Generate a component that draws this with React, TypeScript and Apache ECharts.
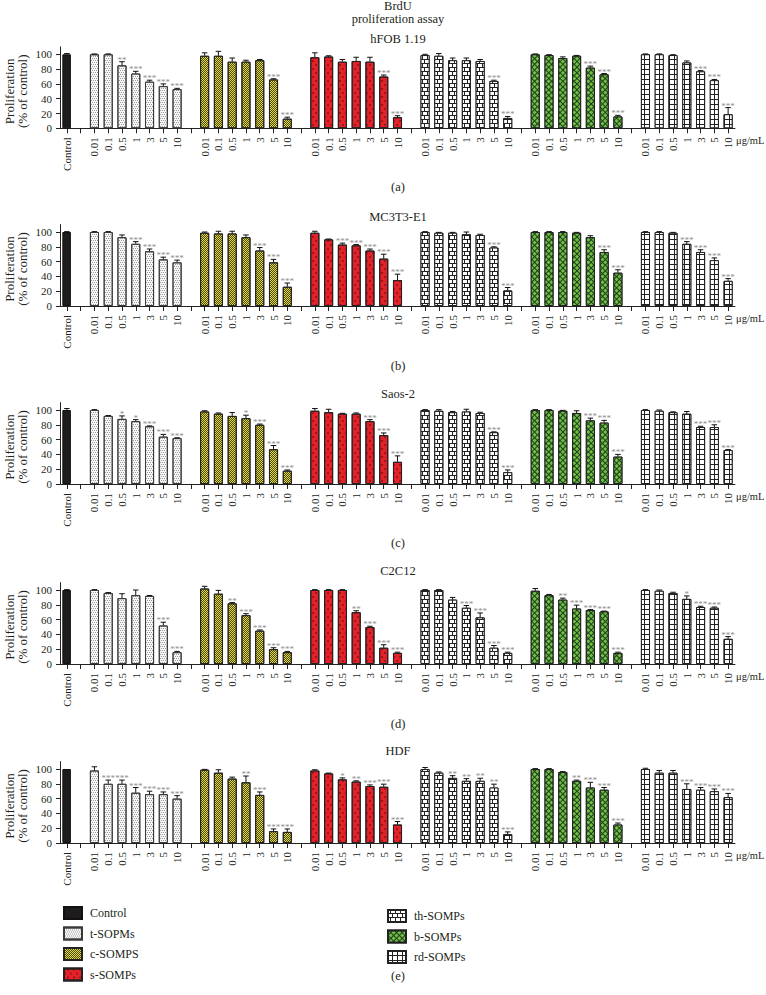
import React, { useEffect, useRef } from 'react';
import * as echarts from 'echarts';

// ---------- data ----------
const cellLines = ['hFOB 1.19', 'MC3T3-E1', 'Saos-2', 'C2C12', 'HDF'];
const panelTags = ['(a)', '(b)', '(c)', '(d)', '(e)'];
const groupNames = ['t-SOPMs', 'c-SOMPS', 's-SOMPs', 'th-SOMPs', 'b-SOMPs', 'rd-SOMPs'];
const doses = ['0.01', '0.1', '0.5', '1', '3', '5', '10'];
const yTicks = [0, 20, 40, 60, 80, 100];

const controlMean = [100, 100, 100, 100, 100];
const controlErr = [1, 0.5, 2, 0.5, 0];

// rows: t, c, s, th, b, rd ; columns: doses
const hfobMean = [
  [100, 100, 85, 74, 63, 57, 53],
  [98, 98, 90, 90, 92, 66, 13],
  [96, 97, 90, 91, 90, 70, 15],
  [99, 98, 92, 92, 91, 64, 14],
  [100, 99, 95, 98, 82, 73, 16],
  [100, 100, 99, 89, 77, 65, 19],
];
const hfobErr = [
  [0.5, 0.5, 5, 3, 2, 3, 1],
  [4, 6, 5, 2, 1, 1, 2],
  [6, 1, 3, 5, 6, 2, 2],
  [1, 3, 3, 3, 2, 1, 2],
  [0.5, 0.5, 1.5, 0.5, 2, 1, 1.5],
  [0.5, 0.5, 0.5, 2, 1, 1, 9],
];
const hfobSig = [
  ['', '', '**', '***', '***', '***', '***'],
  ['', '', '', '', '', '***', '***'],
  ['', '', '', '', '', '***', '***'],
  ['', '', '', '', '', '***', '***'],
  ['', '', '', '', '***', '***', '***'],
  ['', '', '', '', '***', '***', '***'],
];

const mc3t3Mean = [
  [100, 100, 93, 84, 74, 63, 59],
  [99, 98, 98, 93, 75, 59, 26],
  [99, 90, 83, 82, 75, 64, 35],
  [100, 99, 99, 97, 96, 79, 21],
  [100, 100, 100, 99, 93, 73, 45],
  [100, 100, 99, 84, 73, 62, 34],
];
const mc3t3Err = [
  [0.5, 0.5, 3, 3, 3, 3, 3],
  [1, 3, 3, 3, 4, 4, 5],
  [2, 0.5, 2, 1, 2, 6, 8],
  [0.5, 0.5, 0.5, 3, 1, 1, 4],
  [0.5, 0.5, 0.5, 0.5, 2, 3, 4],
  [0.5, 0.5, 0.5, 3, 3, 3, 3],
];
const mc3t3Sig = [
  ['', '', '', '***', '***', '***', '***'],
  ['', '', '', '', '***', '***', '***'],
  ['', '', '***', '***', '***', '***', '***'],
  ['', '', '', '', '', '***', '***'],
  ['', '', '', '', '', '***', '***'],
  ['', '', '', '***', '***', '***', '***'],
];

const saosMean = [
  [100, 92, 88, 85, 78, 64, 62],
  [98, 95, 92, 89, 80, 47, 18],
  [99, 97, 95, 95, 85, 66, 30],
  [100, 99, 97, 98, 96, 70, 16],
  [100, 100, 99, 96, 86, 83, 37],
  [100, 99, 97, 95, 77, 77, 46],
];
const saosErr = [
  [0.5, 0.5, 4, 2, 0.5, 3, 0.5],
  [1, 1, 4.5, 4, 1, 5, 1],
  [3, 4, 0.5, 1, 2, 3, 8],
  [0.5, 1.5, 1, 3, 1, 0.5, 3],
  [0.5, 0.5, 0.5, 3, 3, 3, 3],
  [0.5, 1, 0.5, 3, 1, 3, 0.5],
];
const saosSig = [
  ['', '', '*', '*', '***', '***', '***'],
  ['', '', '', '*', '***', '***', '***'],
  ['', '', '', '', '***', '***', '***'],
  ['', '', '', '', '', '***', '***'],
  ['', '', '', '', '***', '***', '***'],
  ['', '', '', '', '***', '***', '***'],
];

const c2c12Mean = [
  [100, 96, 89, 93, 92, 52, 16],
  [102, 95, 82, 66, 45, 20, 16],
  [100, 100, 100, 70, 50, 22, 15],
  [100, 100, 87, 76, 63, 22, 15],
  [99, 93, 87, 75, 73, 71, 15],
  [100, 99, 96, 88, 77, 76, 34],
];
const c2c12Err = [
  [0.5, 0.5, 6, 7, 0.5, 4.5, 1],
  [3, 4.5, 1, 2, 1, 2, 1],
  [0.5, 0.5, 0.5, 2, 1, 4, 1],
  [0.5, 0.5, 3, 3, 6, 3, 1],
  [3, 1, 2, 4.5, 0.5, 0.5, 1],
  [0.5, 1, 1, 4, 1, 1, 3],
];
const c2c12Sig = [
  ['', '', '', '', '', '***', '***'],
  ['', '', '**', '***', '***', '***', '***'],
  ['', '', '', '**', '***', '***', '***'],
  ['', '', '', '***', '***', '***', '***'],
  ['', '', '**', '***', '***', '***', '***'],
  ['', '', '', '*', '***', '***', '***'],
];

const hdfMean = [
  [98, 80, 80, 68, 66, 66, 60],
  [99, 95, 87, 82, 65, 16, 15],
  [98, 94, 86, 83, 77, 76, 25],
  [100, 95, 88, 84, 84, 75, 12],
  [100, 100, 96, 84, 75, 72, 25],
  [100, 95, 95, 73, 72, 70, 62],
];
const hdfErr = [
  [5, 5, 5, 7, 4, 3, 4],
  [0.5, 4, 2, 8.5, 4, 3, 4],
  [1, 0.5, 2, 1, 1.5, 3.5, 4],
  [2, 1, 3, 3, 3.5, 4.5, 3],
  [0.5, 0.5, 0.5, 1, 7, 3, 2],
  [1, 3, 3, 7, 3, 3, 5],
];
const hdfSig = [
  ['', '***', '***', '***', '***', '***', '***'],
  ['', '', '', '**', '***', '***', '***'],
  ['', '', '*', '**', '***', '***', '***'],
  ['', '', '**', '**', '**', '**', '***'],
  ['', '', '', '**', '***', '***', '***'],
  ['', '', '', '***', '***', '***', '***'],
];

const panelMeans = [hfobMean, mc3t3Mean, saosMean, c2c12Mean, hdfMean];
const panelErrs = [hfobErr, mc3t3Err, saosErr, c2c12Err, hdfErr];
const panelSigs = [hfobSig, mc3t3Sig, saosSig, c2c12Sig, hdfSig];

// ---------- layout ----------
const FONT = 'Liberation Serif';
const TXT = '#231f20';
const zeroY = [128.3, 306, 484, 664, 843];
const pxPerUnit = 0.74;
const yMax = 110;
const gridLeft = 60;
const gridWidth = 675;
const centerX = 398;
const titleY = [39, 217, 394, 571, 751];
const tagY = [187, 366, 543, 724, 976];

const barStyles: any[] = [
  { color: '#1f1c1d', borderColor: '#111', borderWidth: 1 },
  {
    color: '#f7f7f7', borderColor: '#3a3a3a', borderWidth: 1,
    decal: { symbol: 'rect', symbolSize: 1, symbolKeepAspect: false, color: '#9a9a9a', dashArrayX: [[1, 1], [0, 1, 1, 0]], dashArrayY: [1, 1] },
  },
  {
    color: '#e4dc3a', borderColor: '#222', borderWidth: 1,
    decal: { symbol: 'rect', symbolSize: 1, symbolKeepAspect: false, color: '#4c4812', dashArrayX: [[1, 1], [0, 1, 1, 0]], dashArrayY: [1, 0] },
  },
  {
    color: '#e42128', borderColor: '#222', borderWidth: 1,
    decal: { symbol: 'circle', symbolSize: 0.9, symbolKeepAspect: false, color: 'rgba(70,0,0,0.55)', dashArrayX: [[2, 4], [0, 3, 2, 1]], dashArrayY: [2, 2] },
  },
  {
    color: '#222', borderColor: '#222', borderWidth: 1,
    decal: { symbol: 'rect', symbolSize: 1, symbolKeepAspect: false, color: '#ffffff', dashArrayX: [[4, 1], [2, 1, 2, 0]], dashArrayY: [3, 1] },
  },
  {
    color: '#1f3d14', borderColor: '#222', borderWidth: 1,
    decal: { symbol: 'rect', symbolSize: 1, symbolKeepAspect: false, color: '#6fc04a', dashArrayX: [3, 1], dashArrayY: [3, 1], rotation: Math.PI / 4 },
  },
  {
    color: '#222', borderColor: '#222', borderWidth: 1,
    decal: { symbol: 'rect', symbolSize: 1, symbolKeepAspect: false, color: '#ffffff', dashArrayX: [4, 1], dashArrayY: [4, 1] },
  },
];

function buildOption() {
  const xCats: string[] = ['Control', ''];
  groupNames.forEach((_, g) => {
    doses.forEach((d) => xCats.push(d));
    if (g < groupNames.length - 1) xCats.push('');
  });
  const nCat = xCats.length;
  const idxOf = (g: number, d: number) => 2 + g * 8 + d;

  const grids: any[] = [];
  const xAxes: any[] = [];
  const yAxes: any[] = [];
  const series: any[] = [];
  const graphics: any[] = [];

  const textEl = (text: string, x: number, y: number, size: number, align = 'center', extra: any = {}) => ({
    type: 'text', x, y, ...extra,
    style: { text, fill: TXT, fontFamily: FONT, fontSize: size, align, verticalAlign: 'middle', textAlign: align, textVerticalAlign: 'middle' },
  });

  graphics.push(textEl('BrdU', centerX, 6, 12.5));
  graphics.push(textEl('proliferation assay', centerX, 19, 12.5));

  for (let p = 0; p < 5; p++) {
    const top = zeroY[p] - yMax * pxPerUnit;
    grids.push({ left: gridLeft, width: gridWidth, top, height: yMax * pxPerUnit, containLabel: false });
    xAxes.push({
      type: 'category', gridIndex: p, data: xCats, boundaryGap: true,
      axisLine: { show: true, lineStyle: { color: '#222', width: 1 } },
      axisTick: { show: true, interval: 0, alignWithLabel: true, length: 5, lineStyle: { color: '#222' } },
      axisLabel: { interval: 0, rotate: 90, margin: 9, fontFamily: FONT, fontSize: 11, color: TXT },
      splitLine: { show: false },
    });
    yAxes.push({
      type: 'value', gridIndex: p, min: 0, max: yMax, interval: 20,
      axisLine: { show: true, lineStyle: { color: '#222', width: 1 } },
      axisTick: { show: true, length: 4, customValues: yTicks, lineStyle: { color: '#222' } },
      axisLabel: { customValues: yTicks, margin: 8, fontFamily: FONT, fontSize: 11, color: TXT, formatter: (v: number) => (v > 100 ? '' : String(v)) },
      splitLine: { show: false },
    });

    // control bar
    const ctrl: any[] = new Array(nCat).fill('-');
    ctrl[0] = controlMean[p];
    series.push({
      type: 'bar', name: 'Control', xAxisIndex: p, yAxisIndex: p, data: ctrl,
      barWidth: '62%', barGap: '-100%', itemStyle: barStyles[0], silent: true,
    });
    groupNames.forEach((gn, g) => {
      const arr: any[] = new Array(nCat).fill('-');
      panelMeans[p][g].forEach((v, d) => { arr[idxOf(g, d)] = v; });
      series.push({
        type: 'bar', name: gn, xAxisIndex: p, yAxisIndex: p, data: arr,
        barWidth: '66%', barGap: '-100%', itemStyle: barStyles[g + 1], silent: true,
      });
    });

    // error bars + significance
    const errData: number[][] = [[0, controlMean[p], controlErr[p]]];
    const sigs: string[] = [''];
    groupNames.forEach((_, g) => {
      doses.forEach((_d, d) => {
        errData.push([idxOf(g, d), panelMeans[p][g][d], panelErrs[p][g][d]]);
        sigs.push(panelSigs[p][g][d]);
      });
    });
    series.push({
      type: 'custom', name: 'err' + p, xAxisIndex: p, yAxisIndex: p, data: errData, z: 5, silent: true,
      renderItem: (params: any, api: any) => {
        const x = api.value(0);
        const m = api.value(1);
        const e = api.value(2);
        const p0 = api.coord([x, m]);
        const p1 = api.coord([x, m + e]);
        const band = api.size([1, 0])[0];
        const half = band * 0.2;
        const children: any[] = [];
        if (e > 0.3) {
          children.push({ type: 'line', shape: { x1: p0[0], y1: p0[1], x2: p1[0], y2: p1[1] }, style: { stroke: '#111', lineWidth: 1 } });
          children.push({ type: 'line', shape: { x1: p0[0] - half, y1: p1[1], x2: p0[0] + half, y2: p1[1] }, style: { stroke: '#111', lineWidth: 1 } });
        }
        const s = sigs[params.dataIndex];
        if (s) {
          children.push({
            type: 'text', x: p0[0], y: p1[1] - 6.5,
            style: { text: s, fill: '#8f8f8f', fontFamily: FONT, fontSize: 9, align: 'center', verticalAlign: 'top', textAlign: 'center', textVerticalAlign: 'top' },
          });
        }
        return { type: 'group', children };
      },
    });

    // texts
    graphics.push(textEl(cellLines[p], centerX, titleY[p], 12.5));
    if (p < 4) graphics.push(textEl(panelTags[p], centerX, tagY[p], 12.5));
    const midY = zeroY[p] - 50 * pxPerUnit;
    graphics.push(textEl('Proliferation', 9, midY, 13, 'center', { rotation: Math.PI / 2 }));
    graphics.push(textEl('(% of control)', 22, midY, 13, 'center', { rotation: Math.PI / 2 }));
    graphics.push(textEl('\u03bcg/mL', 736, zeroY[p] + 12, 10.5, 'left'));
  }
  graphics.push(textEl(panelTags[4], centerX, tagY[4], 12.5));

  const legendText = { fontFamily: FONT, fontSize: 12, color: TXT, padding: [0, 0, 0, 3] };
  return {
    animation: false,
    backgroundColor: '#ffffff',
    grid: grids,
    xAxis: xAxes,
    yAxis: yAxes,
    series,
    legend: [
      {
        data: ['Control', 't-SOPMs', 'c-SOMPS', 's-SOMPs'], orient: 'vertical', left: 58, top: 901,
        itemWidth: 18, itemHeight: 12, itemGap: 6.5, selectedMode: false, icon: 'rect', textStyle: legendText,
      },
      {
        data: ['th-SOMPs', 'b-SOMPs', 'rd-SOMPs'], orient: 'vertical', left: 382, top: 904,
        itemWidth: 18, itemHeight: 12, itemGap: 6.5, selectedMode: false, icon: 'rect', textStyle: legendText,
      },
    ],
    graphic: graphics,
  };
}

export default function App() {
  const ref = useRef<HTMLDivElement>(null);
  useEffect(() => {
    if (!ref.current) return;
    const chart = echarts.init(ref.current, null, { renderer: 'svg' });
    chart.setOption(buildOption() as any);
    return () => chart.dispose();
  }, []);
  return <div ref={ref} style={{ position: 'absolute', left: 0, top: 0, width: 766, height: 995, background: '#fff' }} />;
}
